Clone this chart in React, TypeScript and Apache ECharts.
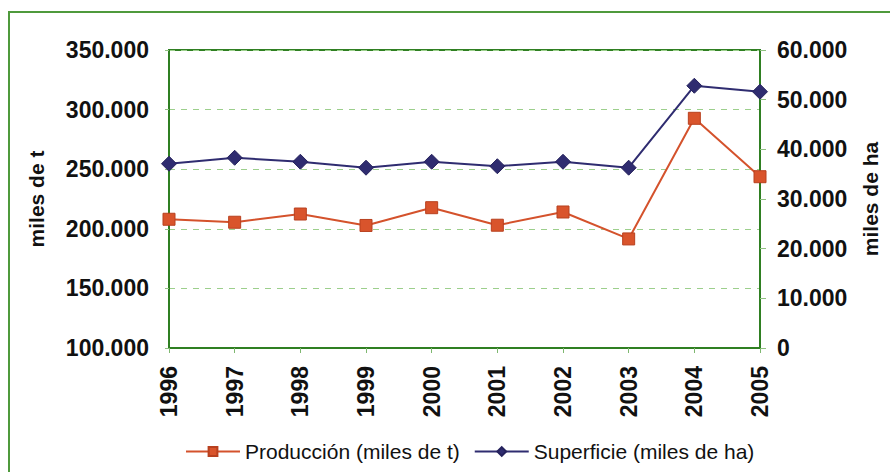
import React, { useEffect, useRef } from "react";
import * as echarts from "echarts";

const years = ["1996", "1997", "1998", "1999", "2000", "2001", "2002", "2003", "2004", "2005"];
const produccion = [208000, 205500, 212400, 202800, 217700, 203000, 214100, 191500, 292700, 243700];
const superficie = [37100, 38300, 37500, 36300, 37500, 36600, 37500, 36300, 52800, 51600];

const leftName = "miles de t";
const rightName = "miles de ha";
const prodName = "Producción (miles de t)";
const supName = "Superficie (miles de ha)";

const FONT = "'Liberation Sans', Arial, Helvetica, sans-serif";

function fmt(v: number): string {
  return String(v).replace(/\B(?=(\d{3})+(?!\d))/g, ".");
}

export default function App() {
  const ref = useRef<HTMLDivElement>(null);
  useEffect(() => {
    if (!ref.current) return;
    const chart = echarts.init(ref.current, null, { renderer: "svg" });
    const labelStyle = { color: "#111", fontFamily: FONT, fontSize: 23, fontWeight: "bold" as const };
    chart.setOption({
      animation: false,
      backgroundColor: "#ffffff",
      textStyle: { fontFamily: FONT },
      graphic: [
        {
          type: "rect",
          shape: { x: 9, y: 12, width: 1000, height: 600 },
          style: { fill: "none", stroke: "#4f9a3c", lineWidth: 2 },
          silent: true,
        },
      ],
      grid: {
        left: 169,
        right: 130,
        top: 50,
        bottom: 124,
        show: true,
        borderColor: "#2f7f22",
        borderWidth: 2,
        backgroundColor: "transparent",
      },
      legend: {
        bottom: 5,
        left: 180,
        itemWidth: 54,
        itemHeight: 11,
        itemGap: 14,
        textStyle: { color: "#111", fontFamily: FONT, fontSize: 21 },
        data: [prodName, supName],
      },
      xAxis: {
        type: "category",
        data: years,
        boundaryGap: false,
        axisLine: { show: true, lineStyle: { color: "#2f7f22", width: 2 } },
        axisTick: { show: true, alignWithLabel: true, length: 5, lineStyle: { color: "#7fb870" } },
        axisLabel: { ...labelStyle, rotate: 90, margin: 18 },
        splitLine: { show: false },
      },
      yAxis: [
        {
          type: "value",
          min: 100000,
          max: 350000,
          interval: 50000,
          name: leftName,
          nameLocation: "middle",
          nameRotate: 90,
          nameGap: 122,
          nameTextStyle: { color: "#111", fontFamily: FONT, fontSize: 21, fontWeight: "bold" },
          axisLine: { show: true, lineStyle: { color: "#2f7f22", width: 2 } },
          axisTick: { show: true, length: 6, lineStyle: { color: "#8fc080", type: "dashed" } },
          axisLabel: { ...labelStyle, margin: 20, formatter: (v: number) => fmt(v) },
          splitLine: { show: true, lineStyle: { color: "#9ccf8c", type: [6, 6], width: 1 } },
        },
        {
          type: "value",
          min: 0,
          max: 60000,
          interval: 10000,
          name: rightName,
          nameLocation: "middle",
          nameRotate: 90,
          nameGap: 100,
          nameTextStyle: { color: "#111", fontFamily: FONT, fontSize: 21, fontWeight: "bold" },
          axisLine: { show: true, lineStyle: { color: "#2f7f22", width: 2 } },
          axisTick: { show: true, length: 6, lineStyle: { color: "#8fc080" } },
          axisLabel: { ...labelStyle, margin: 17, formatter: (v: number) => fmt(v) },
          splitLine: { show: false },
        },
      ],
      series: [
        {
          name: prodName,
          type: "line",
          yAxisIndex: 0,
          data: produccion,
          symbol: "rect",
          symbolSize: 12,
          lineStyle: { color: "#d4522c", width: 2 },
          itemStyle: { color: "#d9542c", borderColor: "#b8401f", borderWidth: 1 },
          z: 3,
        },
        {
          name: supName,
          type: "line",
          yAxisIndex: 1,
          data: superficie,
          symbol: "diamond",
          symbolSize: 15,
          lineStyle: { color: "#2f2c70", width: 2 },
          itemStyle: { color: "#2f2c70", borderColor: "#25225c", borderWidth: 1 },
          z: 4,
        },
      ],
    });
    return () => chart.dispose();
  }, []);
  return (
    <div
      ref={ref}
      style={{ position: "fixed", left: 0, top: 0, width: 890, height: 472, background: "#fff" }}
    />
  );
}
